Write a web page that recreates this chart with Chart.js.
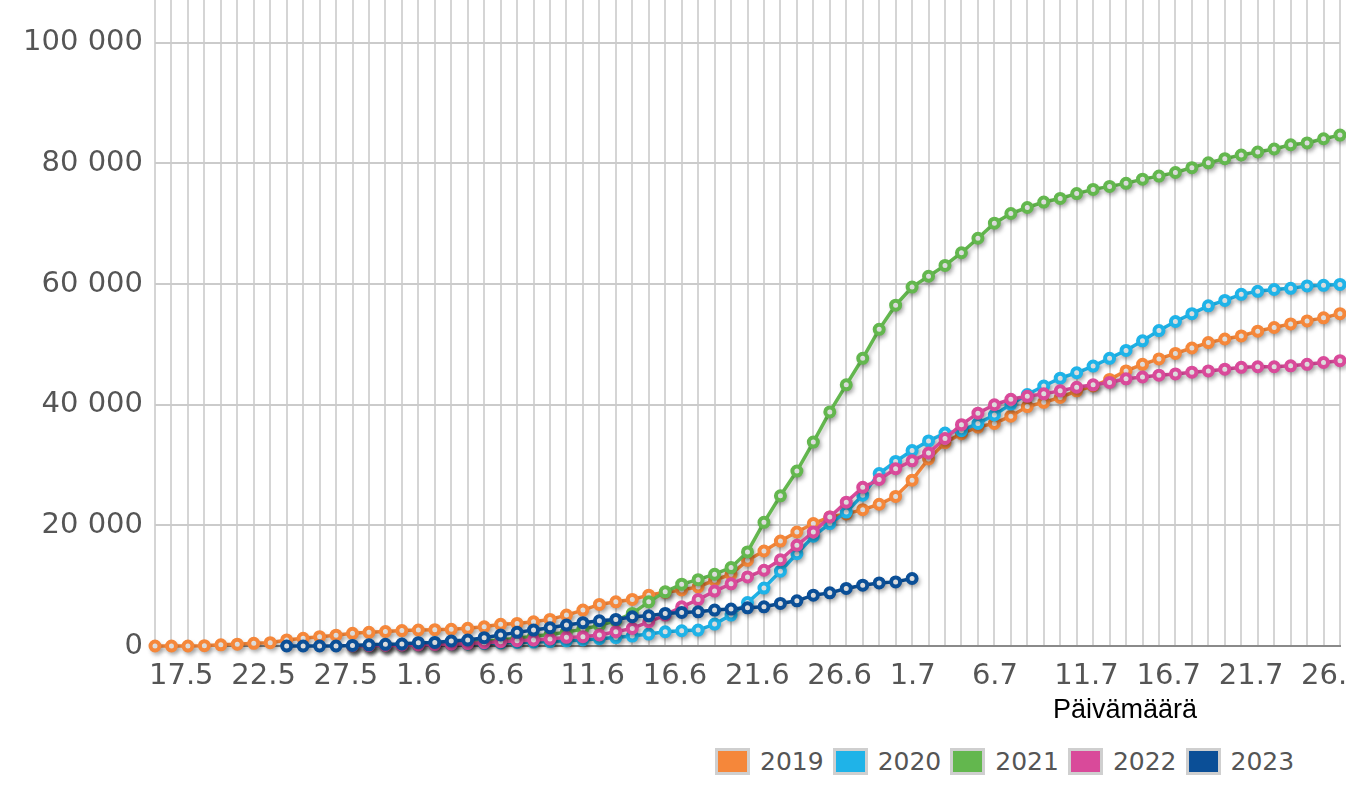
<!DOCTYPE html>
<html lang="fi">
<head>
<meta charset="utf-8">
<title>Tapaukset</title>
<script src="https://cdn.jsdelivr.net/npm/chart.js@4/dist/chart.umd.min.js"></script>
<style>
    body { margin: 0; background: #fff; overflow: hidden; width: 1346px; height: 794px; position: relative; }
    #wrap { position: absolute; left: 0; top: -26px; width: 1353px; height: 732px; }
    #xTitle { position: absolute; left: 1053px; top: 696px; font: 27px "Liberation Sans", Arial, sans-serif; line-height: 27px; color: #000; }
    #legend { position: absolute; left: 715px; top: 748px; display: flex; }
    .item { display: flex; align-items: center; margin-right: 9px; height: 27px; }
    .box { width: 29px; height: 21px; border: 3px solid #cfcfcf; margin-right: 10px; }
    .item span { font: 25px "DejaVu Sans", Verdana, sans-serif; color: #555; }
</style>
</head>
<body>
<div id="wrap"><canvas id="chart"></canvas></div>
<div id="xTitle">Päivämäärä</div>
<div id="legend"></div>

<script>
// päivät 17.5. - 28.7.
const days = [
    '17.5', '18.5', '19.5', '20.5', '21.5', '22.5', '23.5', '24.5', '25.5', '26.5',
    '27.5', '28.5', '29.5', '30.5', '31.5', '1.6', '2.6', '3.6', '4.6', '5.6',
    '6.6', '7.6', '8.6', '9.6', '10.6', '11.6', '12.6', '13.6', '14.6', '15.6',
    '16.6', '17.6', '18.6', '19.6', '20.6', '21.6', '22.6', '23.6', '24.6', '25.6',
    '26.6', '27.6', '28.6', '29.6', '30.6', '1.7', '2.7', '3.7', '4.7', '5.7',
    '6.7', '7.7', '8.7', '9.7', '10.7', '11.7', '12.7', '13.7', '14.7', '15.7',
    '16.7', '17.7', '18.7', '19.7', '20.7', '21.7', '22.7', '23.7', '24.7', '25.7',
    '26.7', '27.7', '28.7'
];

const years = ['2019', '2020', '2021', '2022', '2023'];
const colors = ['#f5873a', '#1fb3e8', '#63b74e', '#d94a9a', '#0b4f97'];

const data2019 = [
    0, 0, 0, 50, 200, 300, 450, 550, 1000, 1270,
    1540, 1800, 2100, 2260, 2400, 2550, 2650, 2700, 2760, 2930,
    3190, 3590, 3750, 4020, 4410, 5120, 5950, 6890, 7320, 7720,
    8430, 8900, 9300, 9800, 10900, 11900, 14200, 15750, 17400, 18900,
    20300, 21400, 21900, 22600, 23500, 24800, 27500, 31000, 33700, 35200,
    36300, 36900, 38100, 39700, 40400, 41200, 42300, 43100, 44200, 45600,
    46700, 47600, 48500, 49400, 50300, 50900, 51400, 52200, 52800, 53400,
    53900, 54400, 55100
];

const data2020 = [
    null, null, null, null, null, null, null, null, null, null,
    null, null, 0, 50, 100, 150, 200, 250, 300, 350,
    420, 500, 580, 650, 730, 850, 1000, 1200, 1400, 1650,
    1980, 2360, 2530, 2640, 3640, 5120, 7200, 9600, 12400, 15300,
    18200, 20300, 22200, 25000, 28600, 30600, 32400, 34000, 35300, 35700,
    36900, 38300, 40100, 41700, 43100, 44400, 45300, 46400, 47700, 49000,
    50600, 52300, 53800, 55100, 56400, 57300, 58300, 58800, 59100, 59300,
    59700, 59800, 59950
];

const data2021 = [
    null, null, null, null, null, null, null, null, null, null,
    null, null, 0, 50, 100, 150, 250, 350, 450, 600,
    800, 1000, 1300, 1600, 1900, 2300, 2800, 3400, 4200, 5400,
    7320, 8980, 10250, 11000, 11900, 13000, 15600, 20500, 24900, 29000,
    33800, 38800, 43300, 47700, 52500, 56500, 59500, 61300, 63100, 65200,
    67600, 70100, 71700, 72700, 73600, 74200, 75000, 75700, 76200, 76700,
    77400, 77900, 78500, 79300, 80100, 80800, 81400, 81900, 82400, 83100,
    83400, 84100, 84700
];

const data2022 = [
    null, null, null, null, null, null, null, null, null, null,
    null, null, 0, 40, 80, 120, 170, 230, 300, 400,
    550, 700, 880, 1000, 1160, 1430, 1550, 1820, 2370, 2920,
    4020, 5120, 6500, 7700, 9100, 10300, 11450, 12560, 14300, 16700,
    18900, 21400, 23850, 26300, 27600, 29400, 30700, 32000, 34400, 36700,
    38600, 40000, 40900, 41400, 41800, 42300, 42900, 43300, 43700, 44300,
    44600, 44900, 45100, 45400, 45600, 45900, 46200, 46300, 46300, 46450,
    46700, 47000, 47300
];

const data2023 = [
    null, null, null, null, null, null, null, null, 0, 0,
    0, 0, 100, 200, 280, 330, 550, 600, 830, 990,
    1380, 1820, 2260, 2640, 3030, 3470, 3860, 4190, 4410, 4850,
    5010, 5400, 5570, 5670, 5950, 6120, 6330, 6500, 7060, 7490,
    8430, 8810, 9540, 10080, 10460, 10630, 11190
];

const yTicks = [0, 20000, 40000, 60000, 80000, 100000];

const allData = [data2019, data2020, data2021, data2022, data2023];

// varjo viivojen alle
const lineShadow = {
    id: 'lineShadow',
    beforeDatasetsDraw(chart) {
        const ctx = chart.ctx;
        ctx.save();
        ctx.shadowColor = 'rgba(0, 0, 0, 0.22)';
        ctx.shadowBlur = 4;
        ctx.shadowOffsetX = 2;
        ctx.shadowOffsetY = 3;
    },
    afterDatasetsDraw(chart) {
        chart.ctx.restore();
    }
};

function formatNumber(v) {
    return String(v).replace(/\B(?=(\d{3})+(?!\d))/g, ' ');
}

const datasets = years.map((year, i) => ({
    label: year,
    data: allData[i],
    borderColor: colors[i],
    backgroundColor: colors[i],
    borderWidth: 3.5,
    pointRadius: 4.5,
    pointBorderWidth: 4,
    pointBackgroundColor: '#fff',
    pointBorderColor: colors[i],
    tension: 0,
    clip: false,
    order: years.length - 1 - i
}));

const ctx = document.getElementById('chart').getContext('2d');
const chart = new Chart(ctx, {
    type: 'line',
    data: { labels: days, datasets: datasets },
    plugins: [lineShadow],
    options: {
        responsive: true,
        maintainAspectRatio: false,
        animation: false,
        layout: { padding: { left: 0, right: 13, top: 0, bottom: 0 } },
        plugins: {
            legend: { display: false },
            tooltip: { enabled: false }
        },
        scales: {
            x: {
                offset: false,
                grid: { color: '#d5d5d5', lineWidth: 2, drawTicks: false },
                border: { display: true, color: '#8a8a8a', width: 2 },
                ticks: {
                    autoSkip: false,
                    maxRotation: 0,
                    minRotation: 0,
                    align: 'start',
                    labelOffset: -6,
                    padding: 13,
                    color: '#555',
                    font: { family: '"DejaVu Sans", Verdana, sans-serif', size: 29 },
                    callback: function (value, index) {
                        return index % 5 === 0 ? days[index] : '';
                    }
                },
                afterFit(scale) {
                    scale.height = 60;
                    scale.paddingLeft = 0;
                    scale.paddingRight = 0;
                }
            },
            y: {
                min: 0,
                max: 110000,
                afterBuildTicks(scale) {
                    scale.ticks = yTicks.map(v => ({ value: v }));
                },
                grid: {
                    color: c => c.tick && c.tick.value === 0 ? '#8a8a8a' : '#cbcbcb',
                    lineWidth: 2,
                    drawTicks: false
                },
                border: { display: false },
                ticks: {
                    padding: 12,
                    color: '#555',
                    font: { family: '"DejaVu Sans", Verdana, sans-serif', size: 29 },
                    callback: v => formatNumber(v)
                },
                afterFit(scale) {
                    scale.width = 155;
                    scale.paddingTop = 0;
                    scale.paddingBottom = 0;
                }
            }
        }
    }
});

// selite
const legend = document.getElementById('legend');
years.forEach((year, i) => {
    const item = document.createElement('div');
    item.className = 'item';
    item.innerHTML = `<div class="box" style="background:${colors[i]}"></div><span>${year}</span>`;
    legend.appendChild(item);
});
</script>
</body>
</html>
